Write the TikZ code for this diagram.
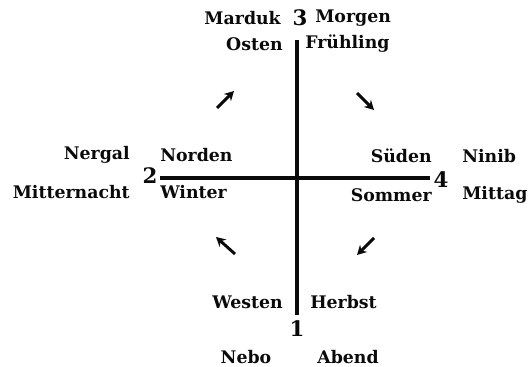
\documentclass[tikz,border=0pt]{standalone}
\usepackage{fontspec}
\setmainfont{DejaVu Serif}
\usetikzlibrary{arrows.meta}
\definecolor{ink}{HTML}{0A0A0A}
\tikzset{
  >={Stealth[length=7pt,width=7.5pt]},
  every node/.style={font=\fontsize{13}{15}\selectfont\bfseries,text=ink,inner sep=0pt},
  lword/.style={anchor=east},
  rword/.style={anchor=west},
  numlabel/.style={font=\fontsize{16}{18}\selectfont\bfseries},
  axis/.style={line width=2.6pt,draw=ink},
  flow/.style={->,line width=2.2pt,draw=ink},
}
\begin{document}
\begin{tikzpicture}[x=0.75pt,y=-0.75pt]
  \useasboundingbox (0,0) rectangle (531,367);
  % cardinal numbers
  \node[numlabel] (n3) at (300,18) {3};
  \node[numlabel] (n2) at (150,176) {2};
  \node[numlabel] (n4) at (441,180) {4};
  \node[numlabel] (n1) at (297,329) {1};
  % axes
  \coordinate (top) at (297,40);
  \coordinate (bottom) at (297,315);
  \coordinate (left) at (160,178);
  \coordinate (right) at (430,178);
  \draw[axis] (top) -- (bottom);
  \draw[axis] (left) -- (right);
  % top
  \node[lword] (marduk) at (281,18) {Marduk};
  \node[rword] (morgen) at (315,18) {Morgen};
  \node[lword] (osten) at (283,44) {Osten};
  \node[rword] (fruehling) at (305,44) {Frühling};
  % left
  \node[lword] (nergal) at (130,155) {Nergal};
  \node[lword] (mitternacht) at (130,192) {Mitternacht};
  \node[rword] (norden) at (160,155) {Norden};
  \node[rword] (winter) at (160,192) {Winter};
  % right
  \node[lword] (sueden) at (432,156) {Süden};
  \node[lword] (sommer) at (432,195) {Sommer};
  \node[rword] (ninib) at (462,156) {Ninib};
  \node[rword] (mittag) at (462,195) {Mittag};
  % bottom
  \node[lword] (westen) at (283,302) {Westen};
  \node[rword] (herbst) at (310,302) {Herbst};
  \node (nebo) at (246,357) {Nebo};
  \node (abend) at (348,357) {Abend};
  % direction arrows
  \coordinate (a1) at (217,108); \coordinate (b1) at (234,91);
  \coordinate (a2) at (357,93);  \coordinate (b2) at (374,110);
  \coordinate (a3) at (374,238); \coordinate (b3) at (357,255);
  \coordinate (a4) at (235,254); \coordinate (b4) at (216,237);
  \foreach \i in {1,2,3,4}
    \draw[flow] (a\i) -- (b\i);
\end{tikzpicture}
\end{document}
